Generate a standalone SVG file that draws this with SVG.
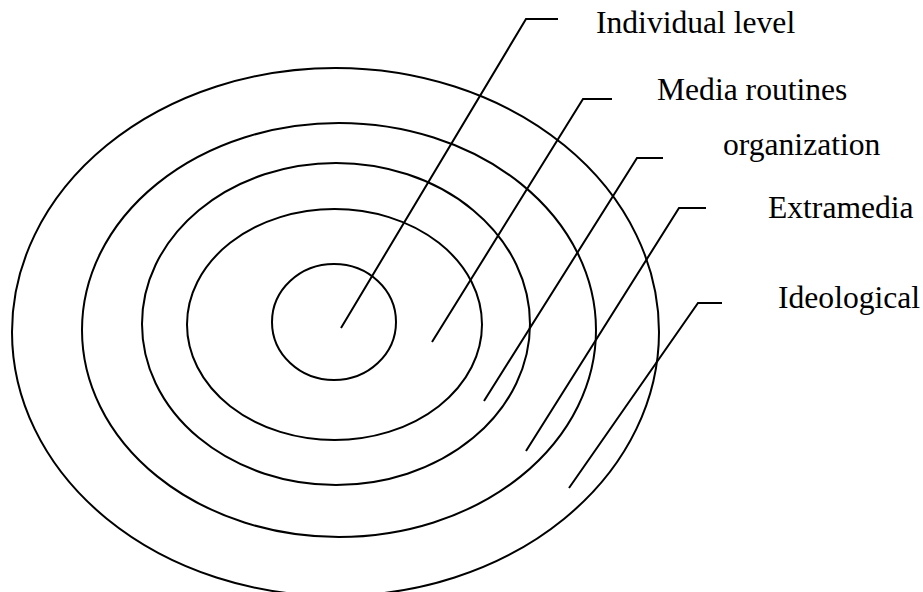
<svg xmlns="http://www.w3.org/2000/svg" width="923" height="592" viewBox="0 0 923 592">
<style>
.ring{fill:none;stroke:#000;stroke-width:2}
.conn{fill:none;stroke:#000;stroke-width:2}
.lbl{font-family:"Liberation Serif","Times New Roman",serif;font-size:31.6px;fill:#000}
</style>
<rect width="923" height="592" fill="#fff"/>
<g id="ring-ideological"><ellipse class="ring" cx="335.5" cy="332" rx="323.5" ry="264"/></g>
<g id="ring-extramedia"><ellipse class="ring" cx="339" cy="330" rx="257" ry="207"/></g>
<g id="ring-organization"><ellipse class="ring" cx="336" cy="324" rx="194" ry="161"/></g>
<g id="ring-media-routines"><ellipse class="ring" cx="334.5" cy="324.5" rx="147.5" ry="115.5"/></g>
<g id="ring-individual"><ellipse class="ring" cx="334" cy="322" rx="62" ry="58"/></g>
<g id="connectors">
<polyline class="conn" points="341,328 526,19 558,19"/>
<polyline class="conn" points="432,342 583,99 612,99"/>
<polyline class="conn" points="484,401 637,158 663,158"/>
<polyline class="conn" points="526,451 679,208 706,208"/>
<polyline class="conn" points="569,488 698,303 722,303"/>
</g>
<g id="label-individual"><text class="lbl" x="596" y="33">Individual level</text></g>
<g id="label-media-routines"><text class="lbl" x="657" y="100">Media routines</text></g>
<g id="label-organization"><text class="lbl" x="723" y="155">organization</text></g>
<g id="label-extramedia"><text class="lbl" x="768" y="218">Extramedia</text></g>
<g id="label-ideological"><text class="lbl" x="778" y="308">Ideological</text></g>
</svg>
